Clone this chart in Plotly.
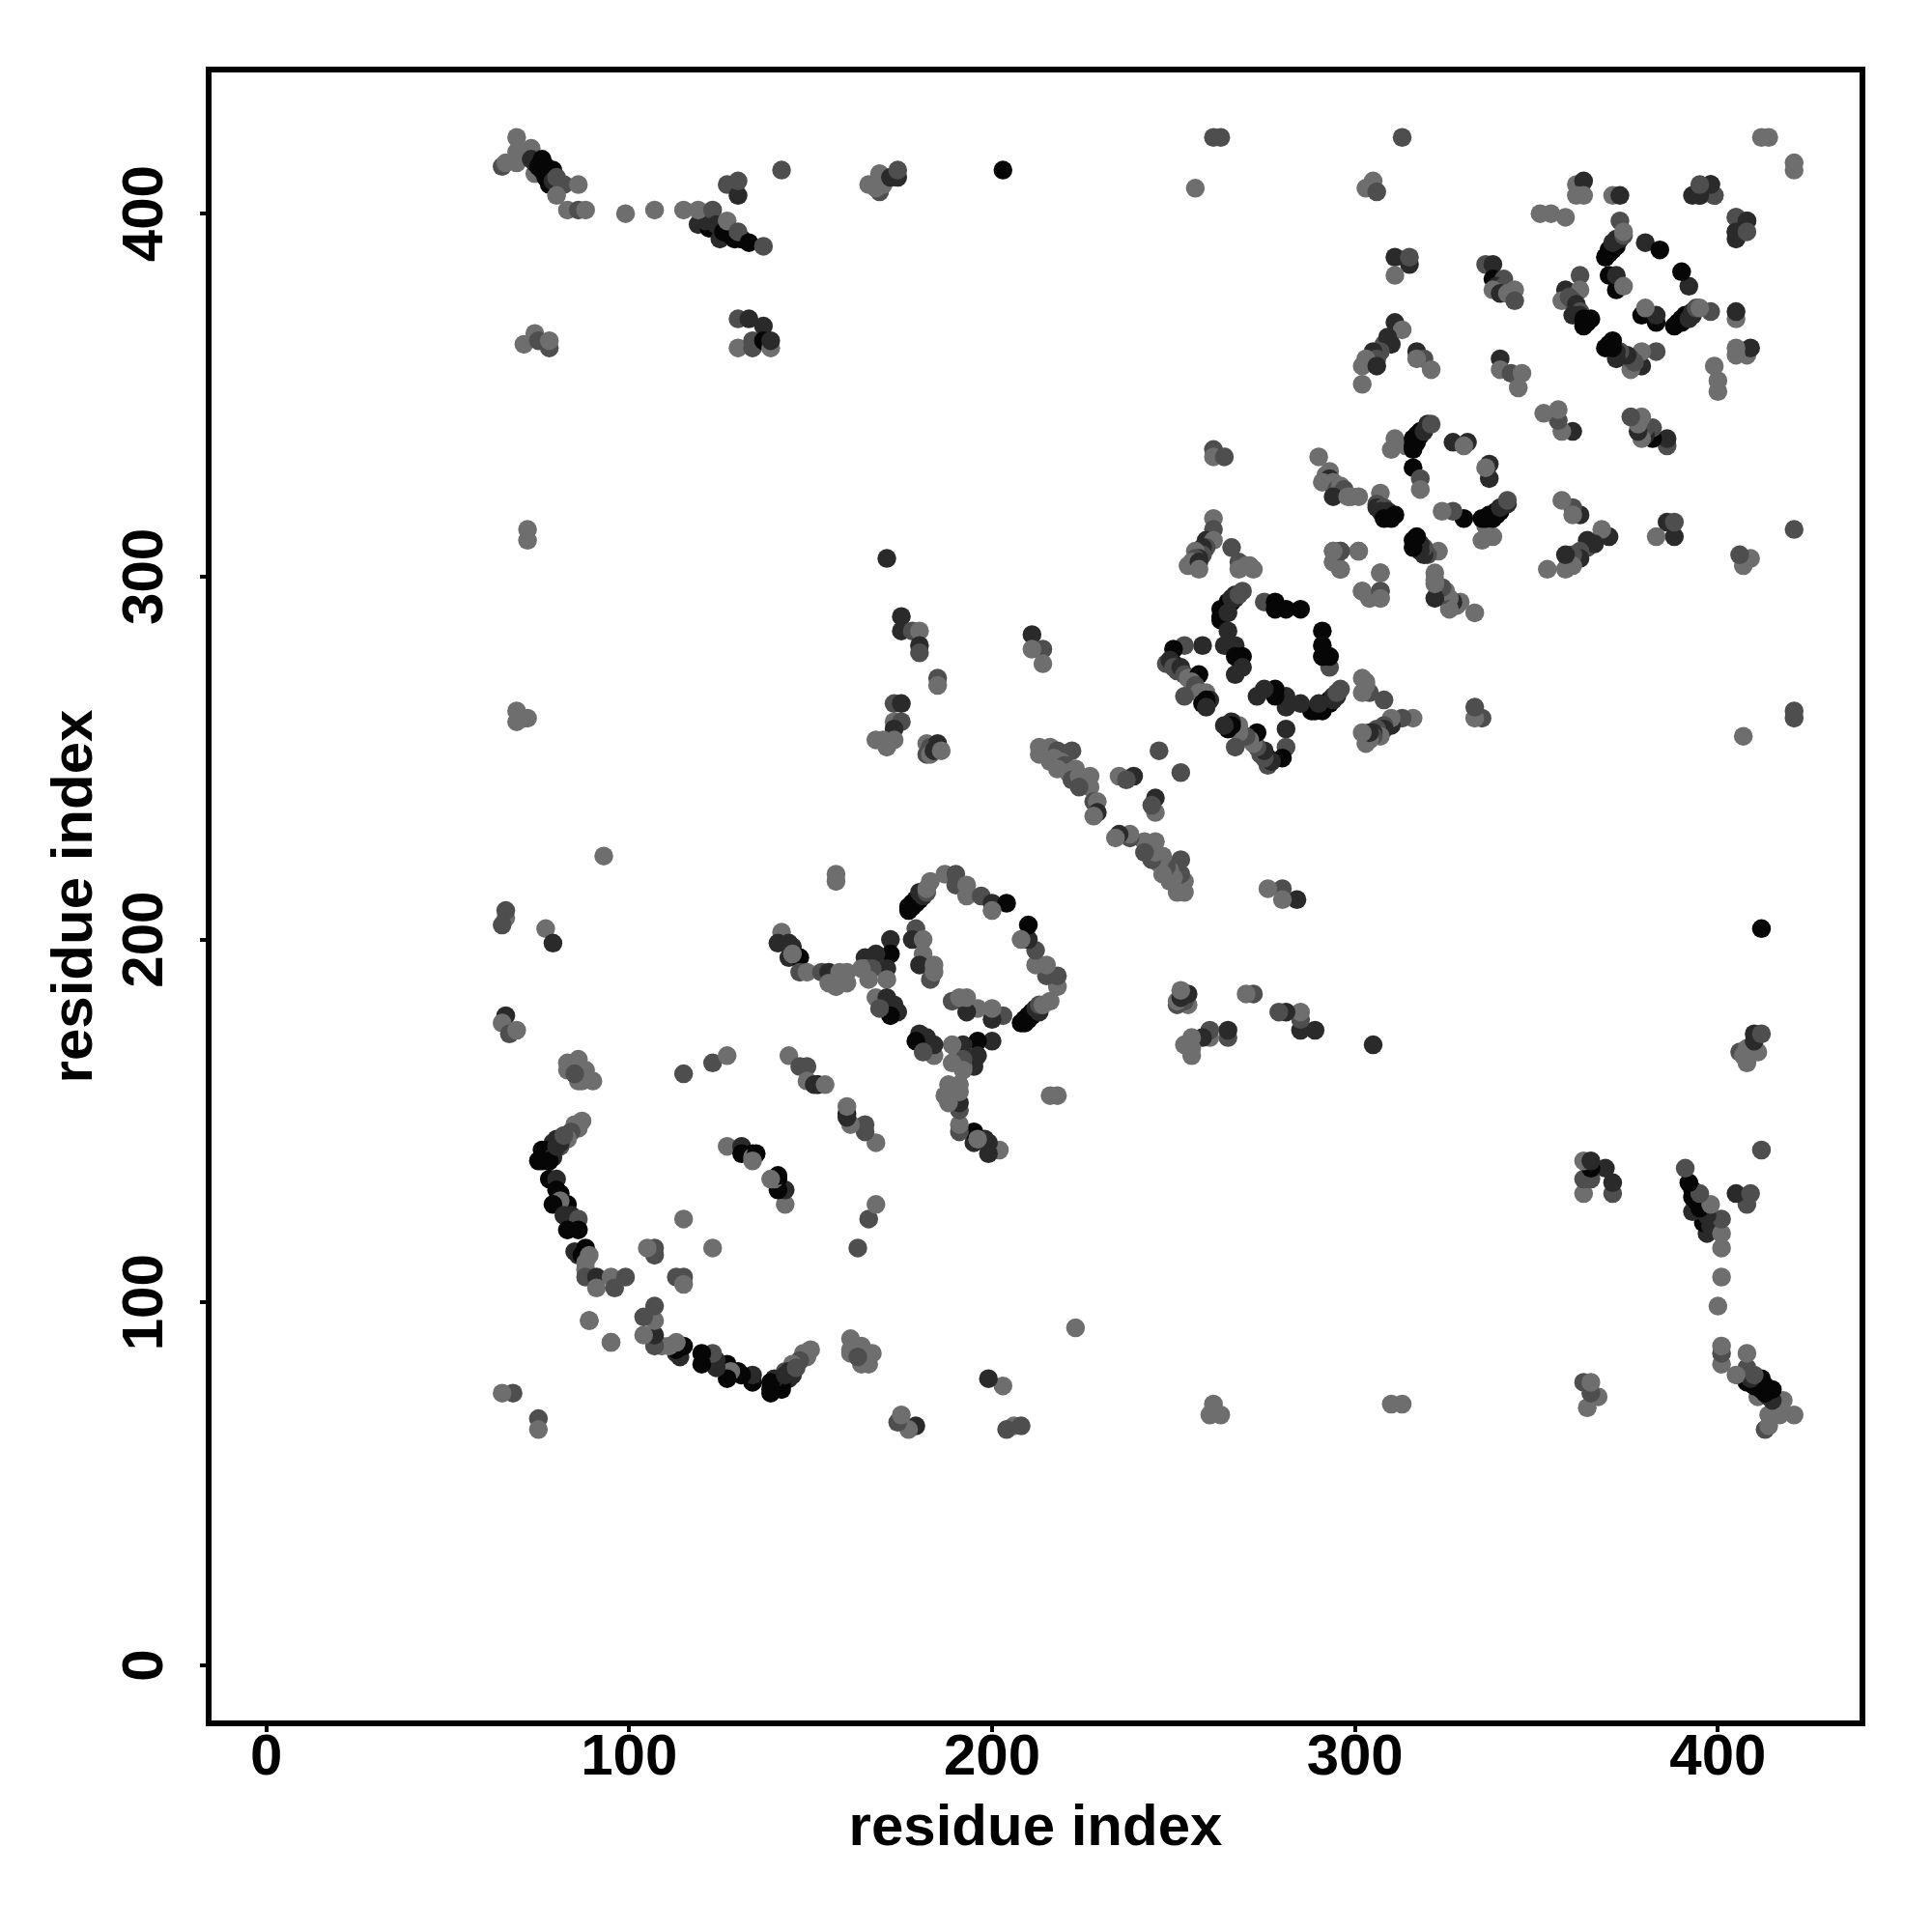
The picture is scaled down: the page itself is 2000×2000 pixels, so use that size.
import plotly.graph_objects as go

L, M, D, B = "#6e6e6e", "#4e4e4e", "#2a2a2a", "#060606"

# Contacts above the diagonal (residue i, residue j, shade); the map is symmetric.
top_left = [
 (69,421,L),(73,418,L),(65,413,M),(66,414,L),(69,414,L),(69,417,L),(73,415,D),(74,411,L),(74,414,D),(75,413,B),(76,415,B),(76,412,B),
 (77,413,B),(77,410,B),(78,411,B),(79,412,B),(78,408,B),(79,409,D),(80,410,M),(82,408,M),(86,408,L),(80,405,L),(83,401,L),(86,401,M),(88,401,L),(99,400,L),
 (107,401,L),(115,401,L),(119,397,D),(122,396,B),(120,399,D),(121,398,D),(119,401,L),(123,401,M),(124,397,D),(125,393,D),(126,395,B),(128,394,B),(127,398,L),(129,393,B),
 (131,393,B),(130,395,M),(133,392,B),(137,391,M),(127,408,M),(130,405,D),(130,409,M),(142,412,M),(166,408,L),(169,411,L),
 (169,406,M),(170,408,L),(168,407,L),(172,410,D),(174,410,D),(174,412,M),(203,412,B),
 (71,364,L),(74,367,L),(75,365,M),(78,363,M),(78,365,L),
 (130,371,M),(133,371,D),(137,369,D),(130,363,L),(134,363,M),(134,365,M),(137,365,B),(139,363,L),(139,365,D),
]
top_right = [
 (261,421,M),(263,421,M),(256,407,L),(313,421,M),(412,421,L),(414,421,L),(305,409,L),(303,407,L),(306,406,M),
 (361,408,L),(363,409,D),(361,405,L),(363,405,L),(371,405,L),(373,405,D),(395,407,M),(398,408,D),(393,405,D),
 (395,405,D),(399,405,M),(405,399,M),(408,398,D),(405,395,D),(408,395,M),
 (351,400,L),(354,400,L),(358,399,L),(373,398,M),(369,388,B),(370,389,B),(370,390,B),(371,390,B),(372,391,B),(371,392,D),(372,393,D),(373,393,D),(374,394,M),(374,395,L),
 (380,392,D),(384,390,B),(362,383,M),(370,383,B),(372,379,B),(372,383,D),(374,380,L),
 (358,379,D),(362,379,L),(357,376,L),(359,377,M),(360,376,M),(361,375,D),(362,373,M),(360,372,D),(362,372,D),(363,371,B),(364,370,B),(363,369,B),(365,371,B),
 (311,388,D),(315,386,D),(315,388,M),(311,383,L),(336,386,M),(338,386,D),(338,382,B),(341,382,M),(339,380,D),(341,380,M),(338,379,L),
 (344,379,L),(340,378,D),(342,378,L),(344,376,M),
 (311,370,D),(313,368,L),(308,364,M),(310,364,D),(309,366,D),(307,362,M),(305,362,D),(306,360,M),(303,360,L),(302,358,L),(302,353,L),(306,358,D),
 (317,362,D),(319,360,M),(317,360,L),(321,357,L),(340,360,D),(340,357,L),(343,356,M),(346,356,L),(345,352,L),
 (261,335,M),(261,333,L),(264,333,M),
 (290,333,L),(293,329,L),(292,328,L),(293,327,D),(291,326,L),(294,326,L),(295,324,M),(296,325,L),(297,324,M),(297,323,M),(294,322,D),(298,322,L),(299,322,L),(301,322,L),
 (310,335,L),(311,338,L),(314,336,L),(316,335,B),(316,336,B),(317,337,B),(316,338,B),(317,339,B),(318,339,B),(318,340,B),(319,340,D),(320,342,D),(321,342,M),
 (327,337,D),(331,337,D),(330,336,L),(316,330,B),(318,327,M),(318,324,L),
 (307,323,L),(306,320,M),(306,319,D),(308,319,M),(307,318,D),(309,318,D),(308,316,B),(310,316,B),(311,317,B),
 (294,307,L),(296,307,M),(301,307,L),(294,304,L),(296,302,M),(307,301,L),(302,296,L),(304,294,L),(307,296,M),(307,294,L),
]
central_ring = [
 (261,316,L),(261,313,M),(259,310,D),(261,310,L),(259,308,M),(258,308,D),(258,306,M),(256,307,L),(257,305,D),(256,305,M),(255,304,L),(254,303,L),(257,304,D),(257,302,L),
 (266,308,M),(268,304,M),(269,303,M),(272,302,L),(271,303,L),(270,303,L),(268,302,L),
 (267,295,D),(265,293,B),(263,291,B),(264,291,B),(265,292,B),(266,293,B),(263,289,B),(263,288,B),(265,290,D),(267,294,D),(266,294,D),(269,296,M),(268,295,M),
 (265,285,D),(264,281,D),(267,281,D),(267,278,B),(269,278,B),(269,275,D),(267,273,D),
 (258,281,D),(253,281,M),(250,280,B),(250,276,B),(248,276,M),(249,277,D),(250,275,M),(251,274,M),(252,275,D),(253,273,M),(254,272,L),(257,273,B),(255,271,L),(256,270,M),
 (257,268,L),(259,268,L),(253,267,M),(258,265,B),(260,266,D),(259,266,B),
 (275,293,M),(278,293,B),(278,291,B),(281,291,B),(285,291,B),
 (264,259,D),(246,252,M),
]
mid_upper = [
 (175,289,D),(175,285,D),(178,285,M),(180,285,L),(180,281,D),(180,279,M),(185,272,M),(185,270,L),
 (173,265,M),(175,265,D),(173,260,L),(175,260,M),(173,258,D),(168,255,L),(170,255,L),(173,255,L),(171,253,L),
 (182,254,L),(183,253,M),(185,254,D),(182,251,M),(183,251,L),(184,252,D),(186,252,L),
 (211,284,D),(214,280,M),(211,280,L),(214,276,L),
 (213,253,L),(214,252,L),(216,253,L),(215,251,L),(218,252,M),(217,250,L),(222,252,M),(213,251,L),(216,249,L),(219,249,L),(220,248,M),(218,247,L),(221,246,L),(223,247,L),(222,244,M),
 (224,245,L),(225,244,L),(226,243,L),(227,245,L),(227,242,L),(224,242,M),(235,245,L),(239,245,D),(237,244,M),
 (228,238,M),(229,238,L),(229,235,D),(228,234,L),
 (171,305,D),(72,313,L),(72,310,L),(69,260,L),(69,263,L),(72,261,L),(71,261,L),
]
ring_left = [
 (157,218,L),(157,216,L),(142,202,L),(141,199,D),(144,199,D),(145,198,D),(144,195,D),(147,195,B),(145,196,L),(147,191,M),(149,191,L),
 (153,191,M),(155,191,D),(158,191,L),(160,191,L),(155,188,L),(158,188,L),(160,188,L),(157,187,L),
 (172,200,D),(172,196,B),(168,196,D),(165,195,D),(165,192,L),(171,192,D),(167,192,M),(164,192,L),(166,189,L),(171,189,L),
 (168,184,L),(171,184,D),(173,182,D),(174,180,D),(172,179,B),(169,181,M),
 (183,216,L),(187,218,L),(190,218,M),(190,215,M),(193,215,L),(193,212,L),(197,212,M),(200,210,D),(204,210,B),(200,208,L),
 (177,209,B),(177,208,B),(178,209,B),(179,211,B),(178,210,B),(179,210,B),(180,211,B),(181,213,D),(180,213,D),(181,212,D),(182,213,M),(182,214,L),
 (179,203,M),(178,200,D),(181,200,L),(181,196,L),(180,193,D),(184,193,L),(183,189,M),(184,191,L),
 (144,168,L),(147,165,M),(149,165,M),(149,161,L),(152,160,B),(151,160,D),(154,160,L),
 (66,206,L),(66,208,M),(65,204,M),(77,203,L),(79,199,D),(93,223,L),
 (66,179,D),(65,177,L),(67,174,M),(69,175,L),
]
lower_left = [
 (83,166,L),(86,167,L),(83,164,L),(88,164,L),(90,161,L),(86,161,L),(87,161,L),(85,163,M),
 (87,150,L),(85,149,L),(86,148,L),(84,147,M),(83,145,L),(80,145,D),(79,144,D),(81,143,M),(76,142,B),(77,142,B),(78,141,B),(79,142,B),(77,140,B),(79,140,D),(75,139,B),(76,139,B),(78,139,B),(80,143,D),(81,144,D),(82,146,M),
 (78,134,B),(80,134,D),(80,131,B),(81,130,B),(83,127,B),(81,128,L),(79,127,B),(82,124,D),(84,124,D),(84,122,D),(86,123,M),(83,120,B),(86,120,B),
 (85,114,D),(86,113,D),(88,115,B),(87,113,B),(89,113,L),(88,111,L),(88,109,L),(88,107,M),(91,107,D),(91,104,L),(95,107,L),(99,107,M),(96,104,M),
 (89,95,L),(95,89,L),(107,115,M),(107,113,M),(105,115,L),(115,123,L),
 (115,163,M),(123,166,M),(127,168,L),
 (127,143,L),(131,143,D),(131,141,B),(134,141,B),(134,140,L),(135,141,B),(134,139,L),
 (68,75,M),(65,75,L),
]
regions = [top_left, top_right, central_ring, mid_upper, ring_left, lower_left]

residue_x, residue_y, shades = [], [], []
for region in regions:
    for i, j, s in region:
        residue_x += [i, j]
        residue_y += [j, i]
        shades += [s, s]

tick_vals = [0, 100, 200, 300, 400]
axis_title = "residue index"
FONT = "Liberation Sans, Arial, sans-serif"

fig = go.Figure(go.Scatter(
    x=residue_x, y=residue_y, mode="markers",
    marker=dict(size=19.5, color=shades, line=dict(width=0)),
    hoverinfo="skip", showlegend=False,
))
axis = dict(
    tickvals=tick_vals, ticks="outside", ticklen=6, tickwidth=4, tickcolor="#000",
    showline=True, linewidth=6, linecolor="#000", mirror=True,
    showgrid=False, zeroline=False,
    tickfont=dict(family=FONT, size=60, color="#000", weight="bold"),
)
fig.update_layout(
    width=1984, height=1984, paper_bgcolor="#fff", plot_bgcolor="#fff", autosize=False,
    margin=dict(l=211, r=67, t=67, b=211),
    xaxis=dict(axis, range=[-15.07, 439.03], ticklabelstandoff=-28,
               title=dict(text=axis_title, standoff=21, font=dict(family=FONT, size=60, color="#000", weight="bold"))),
    yaxis=dict(axis, range=[-15.17, 438.9], tickangle=-90, ticklabelstandoff=15, ticklabelshift=9,
               title=dict(text=axis_title, standoff=1, font=dict(family=FONT, size=60, color="#000", weight="bold"))),
)
fig.write_html("out.html")
